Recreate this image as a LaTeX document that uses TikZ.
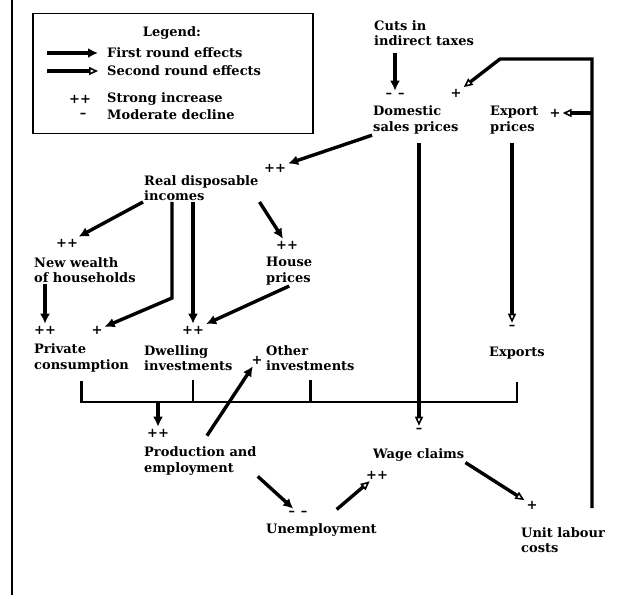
\documentclass[tikz,border=0pt]{standalone}
\usepackage{fontspec}
\setmainfont{DejaVu Serif}
\usetikzlibrary{positioning,calc,arrows.meta}

\tikzset{
  txt/.style={anchor=west, align=left, inner sep=1pt,
    font=\fontsize{13}{15.5}\selectfont\bfseries},
  sgn/.style={inner sep=2pt, font=\fontsize{13}{15.5}\selectfont\bfseries},
  firstrnd/.style={line width=3.4pt, -{Latex[length=10pt,width=10pt]}},
  secondrnd/.style={line width=3.4pt, -{Triangle[open,length=9pt,width=8pt,line width=1.6pt]}},
  bus/.style={line width=2.8pt},
}

\begin{document}
\begin{tikzpicture}[x=1pt, y=-1pt]
  \useasboundingbox (0,0) rectangle (620,595);

  %page rule
  \draw[line width=2.4pt] (12,0) -- (12,595);

  %legend
  \node[draw, line width=1.6pt, minimum width=280pt, minimum height=120pt] (legend) at (173,73.5) {};
  \node[sgn] (lgTitle) at (172,33) {Legend:};
  \node[txt] (lgFirst) at (106,53) {First round effects};
  \node[txt] (lgSecond) at (106,71) {Second round effects};
  \node[txt] (lgStrong) at (106,99) {Strong increase};
  \node[txt] (lgModerate) at (106,115) {Moderate decline};
  \node[sgn] (lgPlus) at (80,99) {++};
  \node[sgn] (lgMinus) at (83,115) {--};
  \draw[firstrnd] ($(lgFirst.west)+(-59,0)$) -- ($(lgFirst.west)+(-8,0)$);
  \draw[secondrnd] ($(lgSecond.west)+(-59,0)$) -- ($(lgSecond.west)+(-8,0)$);

  %prices
  \node[txt] (cuts) at (373,33) {Cuts in\\indirect taxes};
  \node[txt] (dom) at (372,120) {Domestic\\sales prices};
  \node[txt] (exp) at (489,120) {Export\\prices};
  \node[sgn] (sDomCut) at (395,95) {--\hspace{6pt}--};
  \node[sgn] (sDomFb) at (456,93) {+};
  \node[sgn] (sExpFb) at (555,113) {+};

  %incomes
  \node[txt] (rdi) at (143,188) {Real disposable\\incomes};
  \node[sgn] (sRdi) at (275,168) {++};
  \node[txt] (nw) at (33,270) {New wealth\\of households};
  \node[sgn] (sNw) at (67,243) {++};
  \node[txt] (hp) at (265,271) {House\\prices};
  \node[sgn] (sHp) at (287,245) {++};

  %demand
  \node[txt] (pc) at (33,358) {Private\\consumption};
  \node[txt] (di) at (143,358) {Dwelling\\investments};
  \node[txt] (oi) at (265,358) {Other\\investments};
  \node[txt] (exps) at (488,353) {Exports};
  \node[sgn] (sPc1) at (45,330) {++};
  \node[sgn] (sPc2) at (97,330) {+};
  \node[sgn] (sDi) at (193,330) {++};
  \node[sgn] (sOi) at (257,360) {+};
  \node[sgn] (sExp) at (512,327) {--};

  %labour market
  \node[txt] (prod) at (143,461) {Production and\\employment};
  \node[sgn] (sProd) at (158,433) {++};
  \node[txt] (wage) at (372,455) {Wage claims};
  \node[sgn] (sWage1) at (419,430) {--};
  \node[sgn] (sWage2) at (377,475) {++};
  \node[txt] (unemp) at (265,530) {Unemployment};
  \node[sgn] (sUn) at (298,513) {--\hspace{6pt}--};
  \node[txt] (ulc) at (520,540) {Unit labour\\costs};
  \node[sgn] (sUlc) at (532,505) {+};

  %first round: prices
  \draw[firstrnd, shorten <=6pt] (sDomCut.north |- cuts.south) -- (sDomCut.north);
  \draw[firstrnd] (dom.south west) -- (sRdi);
  \draw[secondrnd, shorten <=8pt] (sWage1.north |- dom.south) -- (sWage1.north);
  \draw[secondrnd, shorten <=8pt] (sExp.north |- exp.south) -- (sExp.north);

  %incomes
  \coordinate (pcKnee) at (172,298);
  \draw[firstrnd] (rdi.south west) -- (sNw);
  \draw[firstrnd] (pcKnee |- rdi.south) -- (pcKnee) -- (sPc2);
  \draw[firstrnd] (sDi.north |- rdi.south) -- (sDi.north);
  \draw[firstrnd] (rdi.south east) -- (sHp);
  \draw[firstrnd] (sPc1.north |- nw.south) -- (sPc1.north);
  \draw[firstrnd] (hp.south) -- (sDi);

  %bus
  \coordinate (busY) at (0,402);
  \draw[bus, shorten <=8pt, shorten >=22pt] (pc.south) -- (pc.south |- busY) -- (exps.south |- busY) -- (exps.south);
  \draw[bus, shorten <=8pt] (sDi |- di.south) -- (sDi |- busY);
  \draw[bus, shorten <=8pt] (oi.south) -- (oi.south |- busY);
  \draw[firstrnd] (sProd.north |- busY) -- (sProd.north);

  %production and wages
  \draw[firstrnd, shorten <=12pt] (prod.north) -- (sOi);
  \draw[firstrnd] (prod.south east) -- (sUn);
  \draw[secondrnd, shorten <=20pt] (unemp.north) -- (sWage2);
  \draw[secondrnd] (wage.south east) -- (sUlc);

  %feedback
  \coordinate (fbTop) at (592,59);
  \coordinate (fbKnee) at (500,59);
  \draw[secondrnd, shorten <=18pt] (ulc.north -| fbTop) -- (fbTop) -- (fbKnee) -- (sDomFb);
  \draw[secondrnd] (fbTop |- sExpFb) -- (sExpFb);
\end{tikzpicture}
\end{document}
